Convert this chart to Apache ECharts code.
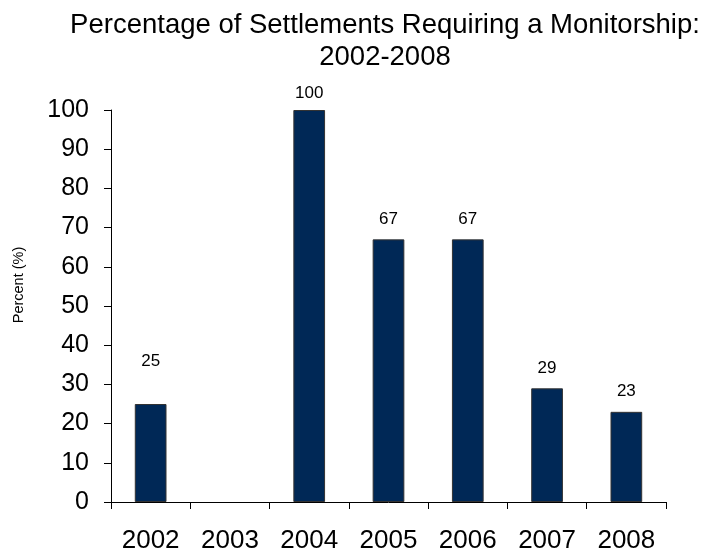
<!DOCTYPE html>
<html>
<head>
<meta charset="utf-8">
<script src="https://cdn.jsdelivr.net/npm/echarts@6/dist/echarts.min.js"></script>
<style>html,body{margin:0;padding:0;background:#fff}#c{width:704px;height:556px}</style>
</head>
<body>
<div id="c"></div>
<script>
const titleLines = ['Percentage of Settlements Requiring a Monitorship:', '2002-2008'];
const years = ['2002', '2003', '2004', '2005', '2006', '2007', '2008'];
const percents = [25, null, 100, 67, 67, 29, 23];
const yTicks = { min: 0, max: 100, interval: 10 };
const yName = 'Percent (%)';

const font = '"Liberation Sans", Arial, sans-serif';
const labelDistance = { 0: 34, 2: 8 };

const chart = echarts.init(document.getElementById('c'), null, { renderer: 'canvas' });
chart.setOption({
  animation: false,
  backgroundColor: '#ffffff',
  title: {
    text: titleLines.join('\n'),
    left: 380, textAlign: 'center', top: 4,
    textStyle: { fontFamily: font, fontSize: 27.5, fontWeight: 'normal', color: '#000', lineHeight: 32 }
  },
  graphic: [{
    type: 'text', x: 19, y: 285, rotation: Math.PI / 2,
    style: { text: yName, fontFamily: font, fontSize: 14.5, fill: '#000', align: 'center', verticalAlign: 'middle' }
  }],
  grid: { left: 111, right: 38, top: 110, bottom: 54, containLabel: false, outerBoundsMode: 'none' },
  xAxis: {
    type: 'category', data: years,
    axisLine: { lineStyle: { color: '#000', width: 1 } },
    axisTick: { show: true, length: 7, lineStyle: { color: '#000' } },
    axisLabel: { color: '#000', fontFamily: font, fontSize: 26, margin: 26, interval: 0 }
  },
  yAxis: {
    type: 'value', min: yTicks.min, max: yTicks.max, interval: yTicks.interval,
    axisLine: { show: true, lineStyle: { color: '#000', width: 1 } },
    axisTick: { show: true, length: 7, lineStyle: { color: '#000' } },
    splitLine: { show: false },
    axisLabel: { color: '#000', fontFamily: font, fontSize: 25, margin: 22 }
  },
  series: [{
    type: 'bar',
    data: percents.map((v, i) => labelDistance[i] !== undefined ? { value: v, label: { distance: labelDistance[i] } } : v),
    barWidth: '40%',
    itemStyle: { color: '#002856', borderColor: '#333', borderWidth: 1 },
    label: { show: true, position: 'top', distance: 12, color: '#000', fontFamily: font, fontSize: 17 }
  }]
});
</script>
</body>
</html>
